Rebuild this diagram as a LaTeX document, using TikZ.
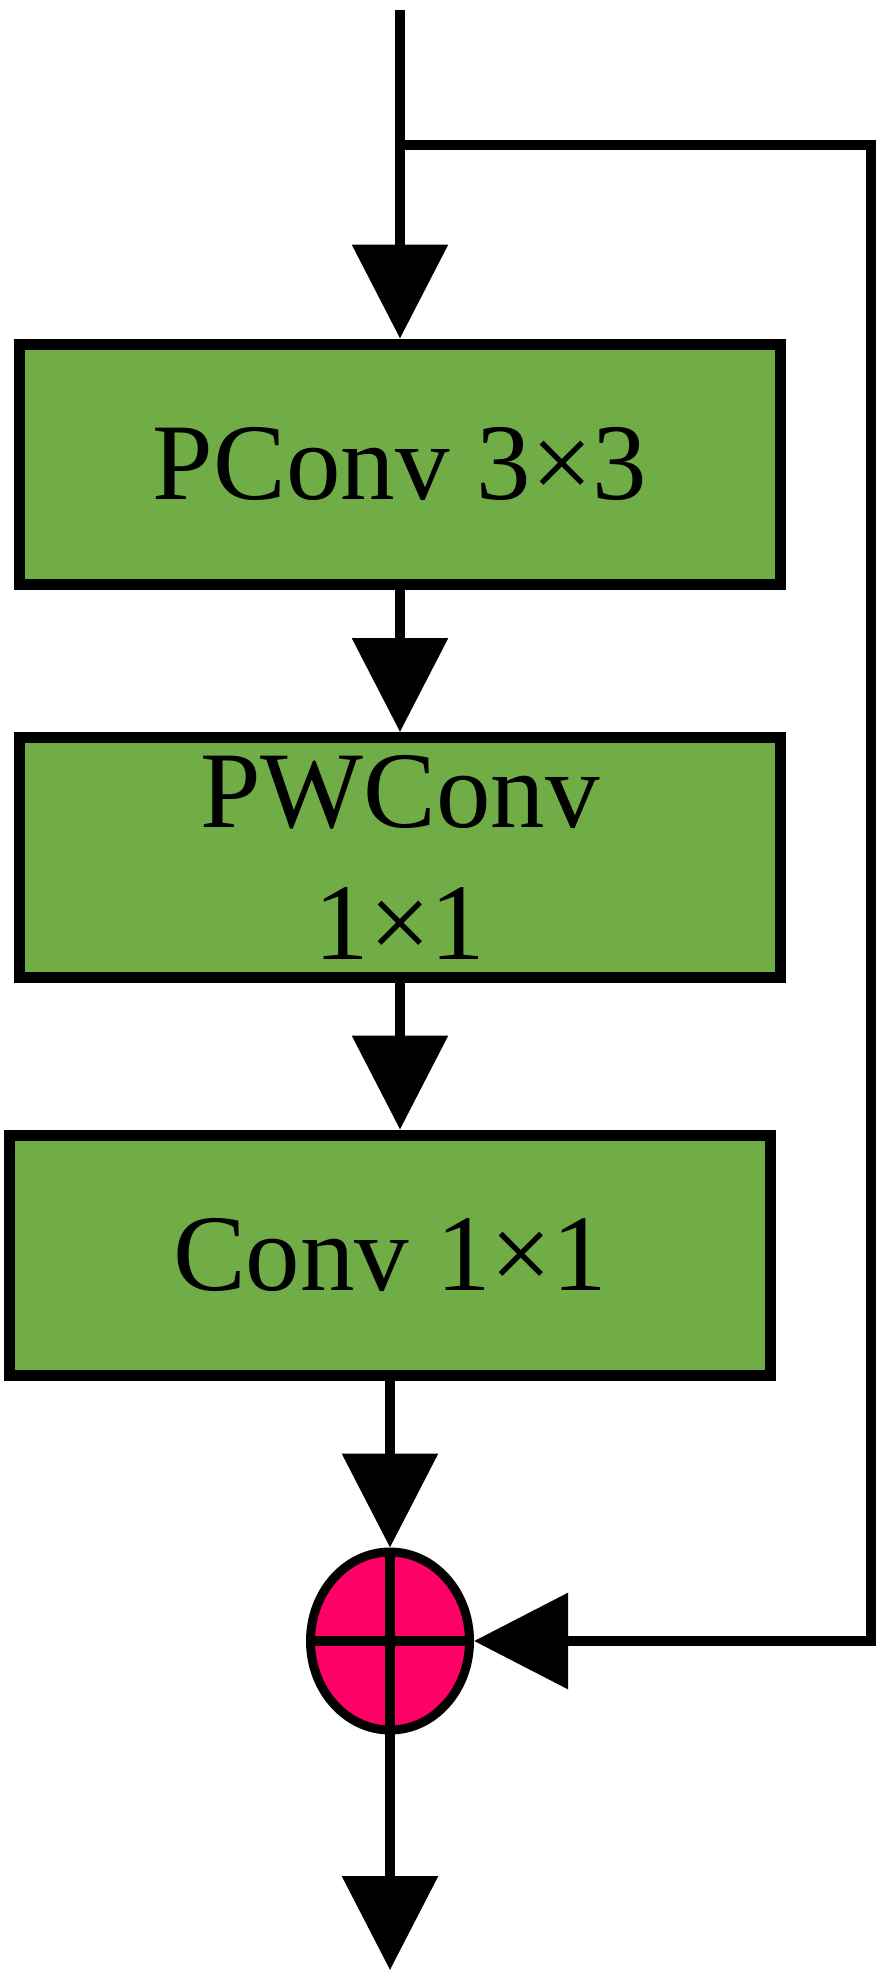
\documentclass[tikz,border=0pt]{standalone}
\usepackage{fontspec}
\setmainfont{Liberation Serif}
\usetikzlibrary{arrows.meta,shapes.geometric}
\definecolor{convgreen}{RGB}{112,173,71}
\definecolor{sumpink}{RGB}{255,0,102}
\begin{document}
\begin{tikzpicture}[
        convbox/.style={draw,line width=0.11cm,fill=convgreen,minimum width=7.6cm,minimum height=2.4cm,align=center,font=\fontsize{31}{37.5}\selectfont},
        flow/.style={line width=0.1cm,-{Triangle[length=0.94cm,width=0.94cm]}},
        wire/.style={line width=0.1cm}]
                \useasboundingbox (0,0) rectangle (8.86,-19.82);
                \node[convbox] (pconv) at (4.00,-4.64) {PConv 3×3};
                \node[convbox] (pwconv) at (4.00,-8.575) {PWConv\\1×1};
                \node[convbox] (conv) at (3.90,-12.55) {Conv 1×1};
                \node[ellipse,draw,line width=0.09cm,fill=sumpink,minimum width=1.59cm,minimum height=1.78cm] (sum) at (3.90,-16.41) {};
                \draw[wire] (sum.north) -- (sum.south);
                \draw[wire] (sum.west) -- (sum.east);
                \coordinate (input) at (4.00,-0.10);
                \coordinate (split) at (4.00,-1.45);
                \coordinate (output) at (3.90,-19.70);
                \draw[flow] (input) -- (pconv.north);
                \draw[flow] (pconv.south) -- (pwconv.north);
                \draw[flow] (pwconv.south) -- (pwconv.south |- conv.north);
                \draw[flow] (conv.south) -- (sum.north);
                \draw[flow] (sum.south) -- (output);
                \draw[flow] (split) -- (8.71,-1.45) |- (sum.east);
            \end{tikzpicture}
\end{document}
